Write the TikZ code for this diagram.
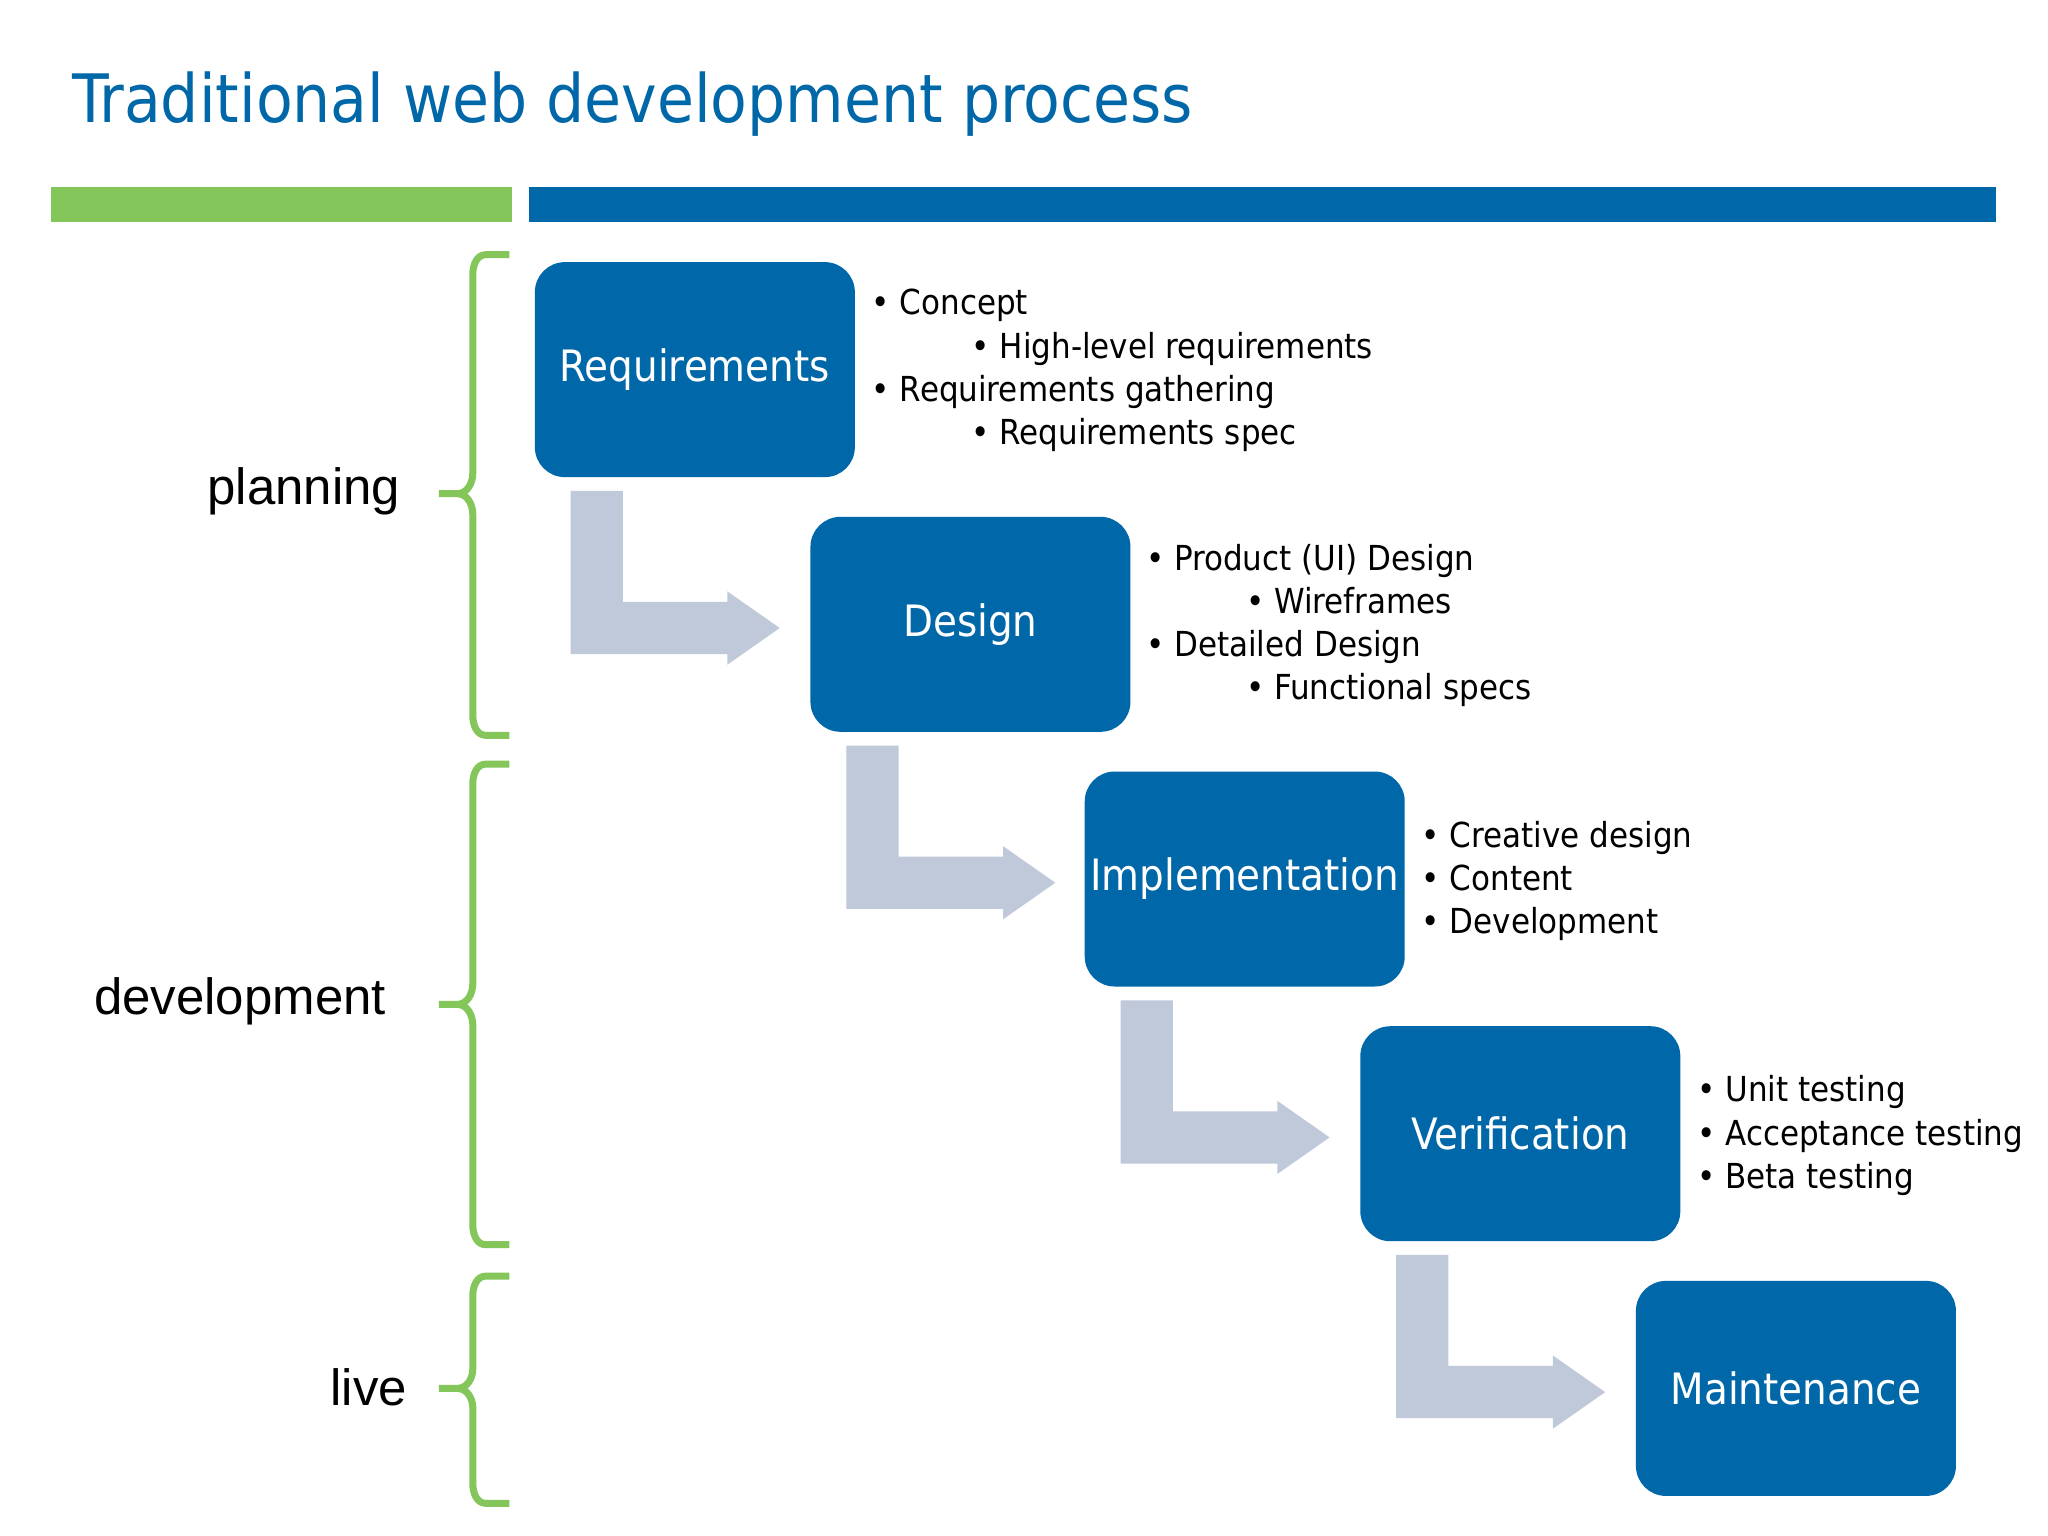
\documentclass[tikz,border=0pt]{standalone}
\usepackage{fontspec}
\setmainfont{DejaVu Sans Condensed}
\newfontfamily\labelfont{Liberation Sans}
\usetikzlibrary{calc}
\definecolor{stepblue}{RGB}{0,103,168}
\definecolor{bargreen}{RGB}{132,198,90}
\definecolor{arrowgrey}{RGB}{192,201,218}
\tikzset{
  stage/.style={fill=stepblue, rounded corners=0.3cm, minimum width=3.2cm, minimum height=2.15cm, text width=3.2cm, align=center, text=white, font=\fontsize{12.3}{15}\selectfont, inner sep=0pt},
  notes/.style={anchor=north west, align=left, font=\fontsize{9.8}{12.3}\selectfont, inner sep=0pt},
  phase/.style={anchor=east, font=\labelfont\fontsize{14.5}{16}\selectfont},
  brace/.style={draw=bargreen, line width=0.07cm, line join=round}
}
\begin{document}
\begin{tikzpicture}[x=0.01306cm, y=-0.01306cm]
	\useasboundingbox[fill=white] (0,0) rectangle (1568,1176);
	% title and bars
	\node[anchor=west, text=stepblue, font=\fontsize{19}{24}\selectfont, inner sep=0pt] (title) at (55,80) {Traditional web development process};
	\fill[bargreen] (39,143) rectangle (392,170);
	\fill[stepblue] (405,143) rectangle (1528,170);

	% steps
	\node[stage] (req) at (532,283) {Requirements};
	\node[stage] (des) at (743,478) {Design};
	\node[stage] (imp) at (953,673) {Implementation};
	\node[stage] (ver) at (1164,868) {Verification};
	\node[stage] (mnt) at (1375,1063) {Maintenance};

	% arrows
	\foreach \a/\b in {req/des, imp/ver, des/imp, ver/mnt}{
		\path (\a.south west) ++(28,10) coordinate (p);
		\fill[arrowgrey] (p) -- ++(40,0) -- ++(0,85) -- ++(80,0) -- ++(0,-8) -- ++(40,28)
			-- ++(-40,28) -- ++(0,-8) -- ++(-120,0) -- cycle;
	}

	% notes
	\node[notes] (reqnotes) at (667,221) {• Concept\\\hspace{2.9em}• High-level requirements\\• Requirements gathering\\\hspace{2.9em}• Requirements spec};
	\node[notes] (desnotes) at (877,416) {• Product (UI) Design\\\hspace{2.9em}• Wireframes\\• Detailed Design\\\hspace{2.9em}• Functional specs};
	\node[notes] (impnotes) at (1088,628) {• Creative design\\• Content\\• Development};
	\node[notes] (vernotes) at (1299,823) {• Unit testing\\• Acceptance testing\\• Beta testing};

	% phases
	\node[phase] (planning) at (316,376) {planning};
	\node[phase] (development) at (305,767) {development};
	\node[phase] (live) at (321,1062) {live};
	\draw[brace] (390,195) -- (372,195) to[out=180,in=90] (362,210) -- (362,362) to[out=-90,in=0] (350,378) -- (336,378)
		(350,378) to[out=0,in=90] (362,394) -- (362,548) to[out=-90,in=180] (372,563) -- (390,563);
	\draw[brace] (390,585) -- (372,585) to[out=180,in=90] (362,600) -- (362,753) to[out=-90,in=0] (350,769) -- (336,769)
		(350,769) to[out=0,in=90] (362,785) -- (362,938) to[out=-90,in=180] (372,953) -- (390,953);
	\draw[brace] (390,977) -- (372,977) to[out=180,in=90] (362,992) -- (362,1048) to[out=-90,in=0] (350,1063) -- (336,1063)
		(350,1063) to[out=0,in=90] (362,1078) -- (362,1136) to[out=-90,in=180] (372,1151) -- (390,1151);
\end{tikzpicture}
\end{document}
